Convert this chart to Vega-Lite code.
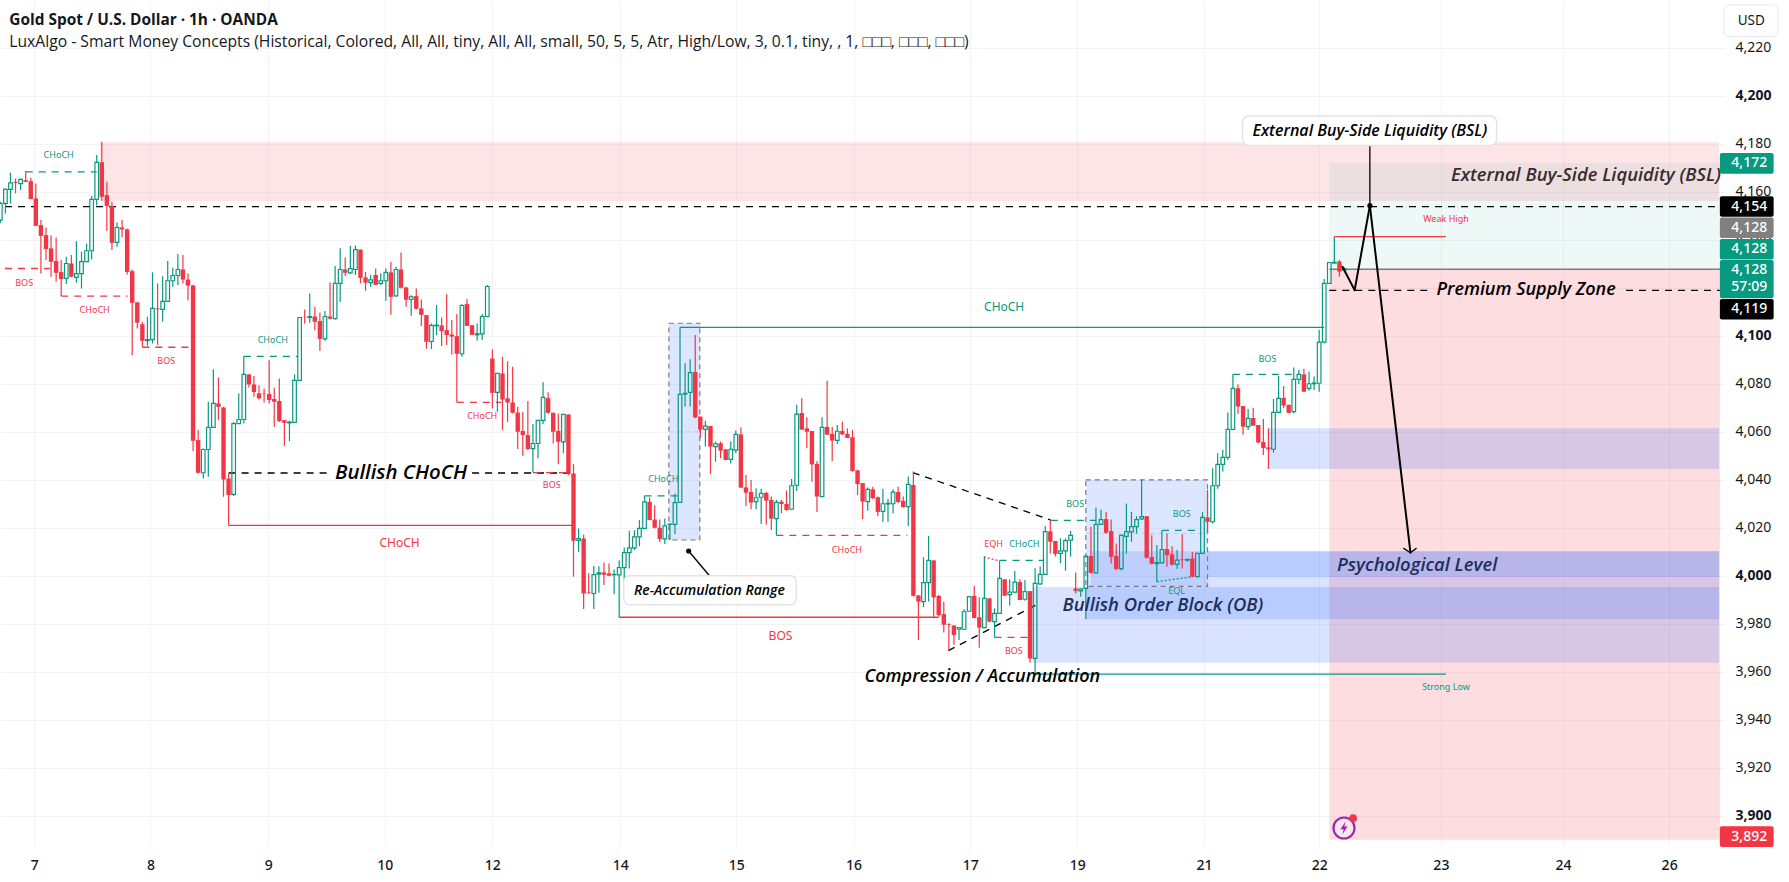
{"$schema":"https://vega.github.io/schema/vega-lite/v6.json","width":1724,"height":846,"autosize":{"type":"none"},"padding":{"left":0,"top":0,"right":65,"bottom":30},"background":"#ffffff","view":{"stroke":null},
"config":{"text":{"font":"Open Sans"},"axis":{"labelFont":"Noto Sans"}},
"datasets":{
"candles":[
{"t":0,"o":4148.2,"h":4155.8,"l":4147,"c":4155.1},{"t":1,"o":4155.1,"h":4161.4,"l":4150.9,"c":4161},{"t":2,"o":4161,"h":4167.9,"l":4155.1,"c":4163.7},{"t":3,"o":4164.1,"h":4165.5,"l":4159.3,"c":4163.7},{"t":4,"o":4163.4,"h":4165.5,"l":4160.7,"c":4165.1},{"t":5,"o":4164.8,"h":4168.6,"l":4164.1,"c":4164.1},{"t":6,"o":4164.4,"h":4165.8,"l":4156.9,"c":4156.9},{"t":7,"o":4157.2,"h":4163.4,"l":4145.7,"c":4145.8},{"t":8,"o":4146.1,"h":4148.2,"l":4125.9,"c":4141.6},{"t":9,"o":4141.9,"h":4145.1,"l":4131.5,"c":4136.1},
{"t":10,"o":4136.4,"h":4141.9,"l":4124.6,"c":4130.8},{"t":11,"o":4131.1,"h":4140.9,"l":4122.5,"c":4126.2},{"t":12,"o":4126.5,"h":4131.5,"l":4116.5,"c":4123.6},{"t":13,"o":4123.9,"h":4132.9,"l":4121.5,"c":4130.1},{"t":14,"o":4130.1,"h":4133.6,"l":4124.3,"c":4124.6},{"t":15,"o":4124.3,"h":4139.4,"l":4122.1,"c":4125.9},{"t":16,"o":4125.9,"h":4135,"l":4119.7,"c":4130.9},{"t":17,"o":4130.9,"h":4138.4,"l":4130.8,"c":4135.4},{"t":18,"o":4135.4,"h":4158.2,"l":4131.8,"c":4156.8},{"t":19,"o":4156.8,"h":4175.3,"l":4154.4,"c":4172.2},
{"t":20,"o":4172.3,"h":4180.8,"l":4156.2,"c":4157.9},{"t":21,"o":4158.6,"h":4164.1,"l":4143.6,"c":4154.1},{"t":22,"o":4154,"h":4155.8,"l":4135.7,"c":4138.7},{"t":23,"o":4138.9,"h":4147.2,"l":4137.1,"c":4145.1},{"t":24,"o":4145.1,"h":4148.2,"l":4141,"c":4144.3},{"t":25,"o":4144.3,"h":4144.7,"l":4125.5,"c":4126.6},{"t":26,"o":4126.9,"h":4127.6,"l":4091.9,"c":4113.7},{"t":27,"o":4113.9,"h":4113.9,"l":4103,"c":4105.4},{"t":28,"o":4104.8,"h":4105.8,"l":4095.2,"c":4097.9},{"t":29,"o":4097.9,"h":4107.9,"l":4095.8,"c":4098.4},
{"t":30,"o":4098.4,"h":4126.4,"l":4096.8,"c":4111.4},{"t":31,"o":4111.4,"h":4121.8,"l":4096.1,"c":4111},{"t":32,"o":4111,"h":4124.8,"l":4105.8,"c":4114.3},{"t":33,"o":4114.3,"h":4131.1,"l":4114.2,"c":4122.9},{"t":34,"o":4122.9,"h":4128.3,"l":4120.4,"c":4125.1},{"t":35,"o":4125.1,"h":4134,"l":4121.1,"c":4127.6},{"t":36,"o":4127.6,"h":4133.6,"l":4121.8,"c":4123.4},{"t":37,"o":4123.4,"h":4125.9,"l":4114.8,"c":4120.9},{"t":38,"o":4120.9,"h":4121.2,"l":4052,"c":4056.2},{"t":39,"o":4056.5,"h":4060.7,"l":4042.6,"c":4042.9},
{"t":40,"o":4042.9,"h":4053,"l":4040.5,"c":4052.6},{"t":41,"o":4052.6,"h":4072.5,"l":4041.2,"c":4061.8},{"t":42,"o":4061.8,"h":4086,"l":4061.8,"c":4071.8},{"t":43,"o":4071.8,"h":4082.6,"l":4064.8,"c":4070.4},{"t":44,"o":4070.1,"h":4070.4,"l":4032.9,"c":4040.1},{"t":45,"o":4040.5,"h":4042.6,"l":4021,"c":4033.6},{"t":46,"o":4033.9,"h":4064.1,"l":4033.2,"c":4063.4},{"t":47,"o":4063.4,"h":4075.9,"l":4063.2,"c":4065.1},{"t":48,"o":4065.1,"h":4091.4,"l":4063.4,"c":4083.9},{"t":49,"o":4083.9,"h":4083.9,"l":4078.4,"c":4079.7},
{"t":50,"o":4079.7,"h":4083.2,"l":4074.6,"c":4076.6},{"t":51,"o":4076,"h":4079.4,"l":4073.4,"c":4073.9},{"t":52,"o":4075.9,"h":4078,"l":4072.2,"c":4075.7},{"t":53,"o":4075.7,"h":4089.8,"l":4071.8,"c":4073.2},{"t":54,"o":4073.6,"h":4078.3,"l":4062.1,"c":4072.5},{"t":55,"o":4072.8,"h":4082.2,"l":4064.1,"c":4064.4},{"t":56,"o":4064.8,"h":4064.8,"l":4054.1,"c":4063.7},{"t":57,"o":4063.7,"h":4064.6,"l":4056.1,"c":4064},{"t":58,"o":4063.9,"h":4083.9,"l":4063.7,"c":4081.4},{"t":59,"o":4081.4,"h":4107.6,"l":4081.2,"c":4107.6},
{"t":60,"o":4107.6,"h":4110.9,"l":4105.1,"c":4107.5},{"t":61,"o":4107.6,"h":4117.6,"l":4105.4,"c":4108},{"t":62,"o":4108,"h":4112.1,"l":4102.3,"c":4105.8},{"t":63,"o":4106.1,"h":4109.7,"l":4093.7,"c":4098.7},{"t":64,"o":4098.7,"h":4110.3,"l":4097.9,"c":4108},{"t":65,"o":4108,"h":4122.2,"l":4106.8,"c":4107.1},{"t":66,"o":4107.1,"h":4129.1,"l":4106.8,"c":4121.8},{"t":67,"o":4121.8,"h":4136.4,"l":4114.1,"c":4127.6},{"t":68,"o":4127.6,"h":4132.6,"l":4124.8,"c":4126.2},{"t":69,"o":4126.2,"h":4137.5,"l":4125.7,"c":4128},
{"t":70,"o":4127.6,"h":4137.6,"l":4125.3,"c":4135.9},{"t":71,"o":4135.9,"h":4135.9,"l":4121.8,"c":4124.1},{"t":72,"o":4124.3,"h":4126.6,"l":4118.7,"c":4122.1},{"t":73,"o":4122.1,"h":4125.3,"l":4120.4,"c":4123.3},{"t":74,"o":4125.3,"h":4128,"l":4121.1,"c":4121.2},{"t":75,"o":4121.8,"h":4125.9,"l":4121.1,"c":4122.9},{"t":76,"o":4122.9,"h":4128,"l":4114.6,"c":4126.4},{"t":77,"o":4126.4,"h":4130.8,"l":4108.7,"c":4116.2},{"t":78,"o":4116.6,"h":4128.7,"l":4116.2,"c":4127.6},{"t":79,"o":4127.6,"h":4134.7,"l":4119.7,"c":4120},
{"t":80,"o":4120.1,"h":4120.4,"l":4112.1,"c":4115},{"t":81,"o":4115.1,"h":4116.9,"l":4108.3,"c":4116.2},{"t":82,"o":4116.5,"h":4119.7,"l":4110.9,"c":4111.2},{"t":83,"o":4111.4,"h":4115.1,"l":4104.1,"c":4108.7},{"t":84,"o":4108.6,"h":4108.6,"l":4094.6,"c":4097.5},{"t":85,"o":4097.6,"h":4105.1,"l":4094.4,"c":4104.3},{"t":86,"o":4104.1,"h":4112.8,"l":4100.3,"c":4104.4},{"t":87,"o":4104.3,"h":4107.6,"l":4095.7,"c":4101.9},{"t":88,"o":4102.3,"h":4117.3,"l":4096.1,"c":4100.3},{"t":89,"o":4100.5,"h":4106.5,"l":4092.2,"c":4099.6},
{"t":90,"o":4099.8,"h":4109,"l":4072.2,"c":4092.5},{"t":91,"o":4092.5,"h":4113.2,"l":4091.2,"c":4112.6},{"t":92,"o":4113.2,"h":4115.3,"l":4104.1,"c":4104.1},{"t":93,"o":4104.4,"h":4104.4,"l":4100.3,"c":4100.4},{"t":94,"o":4100.4,"h":4105.1,"l":4097.9,"c":4100.8},{"t":95,"o":4100.8,"h":4109,"l":4098.2,"c":4108},{"t":96,"o":4108,"h":4121.1,"l":4107.9,"c":4120.5},{"t":97,"o":4090.5,"h":4094.4,"l":4069.7,"c":4076.2},{"t":98,"o":4076.4,"h":4084.3,"l":4068.3,"c":4084.3},{"t":99,"o":4084.3,"h":4091.2,"l":4060.7,"c":4073.4},
{"t":100,"o":4073.9,"h":4089.4,"l":4064.1,"c":4072.2},{"t":101,"o":4072.2,"h":4087.1,"l":4067.6,"c":4067.9},{"t":102,"o":4068,"h":4070.4,"l":4052.8,"c":4060},{"t":103,"o":4060.3,"h":4068.3,"l":4050,"c":4058.6},{"t":104,"o":4058.6,"h":4072.8,"l":4052.4,"c":4052.8},{"t":105,"o":4053,"h":4063.2,"l":4043,"c":4055.1},{"t":106,"o":4055.1,"h":4064.9,"l":4048.9,"c":4064.7},{"t":107,"o":4064.7,"h":4080.6,"l":4063.2,"c":4074.3},{"t":108,"o":4074,"h":4076.4,"l":4067.6,"c":4067.9},{"t":109,"o":4067.9,"h":4067.9,"l":4055.1,"c":4060},
{"t":110,"o":4060.3,"h":4067.6,"l":4046.4,"c":4055.8},{"t":111,"o":4055.8,"h":4067.2,"l":4051,"c":4067.2},{"t":112,"o":4067.2,"h":4067.2,"l":4041.9,"c":4042.6},{"t":113,"o":4042.6,"h":4046.5,"l":3999.6,"c":4014.6},{"t":114,"o":4014.7,"h":4019.7,"l":4010,"c":4015.5},{"t":115,"o":4015.5,"h":4017.2,"l":3986.1,"c":3992.6},{"t":116,"o":3993,"h":4001,"l":3992.6,"c":3992.7},{"t":117,"o":3992.6,"h":4004.1,"l":3986.1,"c":4000.5},{"t":118,"o":4000.7,"h":4004,"l":3992.9,"c":4001.2},{"t":119,"o":4001.4,"h":4005.5,"l":3996.1,"c":4000.4},
{"t":120,"o":4001,"h":4005.1,"l":3999.8,"c":4000},{"t":121,"o":4000.4,"h":4002.6,"l":3992.3,"c":4000.5},{"t":122,"o":4000.4,"h":4006.5,"l":3982.7,"c":4003.4},{"t":123,"o":4003.4,"h":4011.8,"l":3991.5,"c":4009.6},{"t":124,"o":4009.6,"h":4018.7,"l":4003,"c":4011.6},{"t":125,"o":4011.6,"h":4019,"l":4010.7,"c":4016.2},{"t":126,"o":4016.2,"h":4023.2,"l":4012.3,"c":4019.7},{"t":127,"o":4019.7,"h":4033.3,"l":4019.6,"c":4030.8},{"t":128,"o":4030.8,"h":4032.6,"l":4023.2,"c":4023.2},{"t":129,"o":4023.4,"h":4029.4,"l":4019.7,"c":4020},
{"t":130,"o":4020,"h":4023.4,"l":4014.1,"c":4015.3},{"t":131,"o":4015.4,"h":4023.9,"l":4013.2,"c":4020.8},{"t":132,"o":4021.4,"h":4021.8,"l":4014.8,"c":4021.5},{"t":133,"o":4021.4,"h":4034.3,"l":4017.3,"c":4030.5},{"t":134,"o":4030.6,"h":4103.5,"l":4030.6,"c":4075.6},{"t":135,"o":4075.7,"h":4088.5,"l":4070.5,"c":4076},{"t":136,"o":4076.4,"h":4090.2,"l":4070.5,"c":4084.6},{"t":137,"o":4084.9,"h":4100.3,"l":4065.6,"c":4066},{"t":138,"o":4066.3,"h":4066.3,"l":4057.5,"c":4060.9},{"t":139,"o":4061,"h":4064.6,"l":4053.8,"c":4062.3},
{"t":140,"o":4062.4,"h":4062.4,"l":4042.4,"c":4053.8},{"t":141,"o":4053.8,"h":4055.9,"l":4047.5,"c":4055},{"t":142,"o":4055.2,"h":4055.9,"l":4048.9,"c":4052.1},{"t":143,"o":4052.7,"h":4052.7,"l":4048.2,"c":4048.2},{"t":144,"o":4048.5,"h":4055.9,"l":4046.8,"c":4052.7},{"t":145,"o":4052.3,"h":4060.5,"l":4051,"c":4058.9},{"t":146,"o":4058.9,"h":4061.8,"l":4036.7,"c":4036.7},{"t":147,"o":4036.8,"h":4042,"l":4029.1,"c":4034.6},{"t":148,"o":4034.9,"h":4039.9,"l":4027.7,"c":4030.5},{"t":149,"o":4030.9,"h":4036.4,"l":4027.7,"c":4032.5},
{"t":150,"o":4032.7,"h":4036.2,"l":4021.6,"c":4034.3},{"t":151,"o":4034.5,"h":4035,"l":4021.2,"c":4031.3},{"t":152,"o":4031.6,"h":4033,"l":4019.1,"c":4023.8},{"t":153,"o":4023.8,"h":4031.6,"l":4016.8,"c":4030.6},{"t":154,"o":4030.9,"h":4031.6,"l":4026,"c":4029.9},{"t":155,"o":4029.9,"h":4035.5,"l":4027.1,"c":4027.4},{"t":156,"o":4027.7,"h":4040.3,"l":4027.4,"c":4037.5},{"t":157,"o":4037.7,"h":4071.2,"l":4035.3,"c":4067.3},{"t":158,"o":4067.8,"h":4073.9,"l":4060.7,"c":4060.9},{"t":159,"o":4061.4,"h":4066,"l":4053.1,"c":4060},
{"t":160,"o":4060.3,"h":4060.3,"l":4039.2,"c":4046.4},{"t":161,"o":4046.6,"h":4047.8,"l":4026.6,"c":4033},{"t":162,"o":4033,"h":4066,"l":4033,"c":4061.8},{"t":163,"o":4062,"h":4081.2,"l":4058.6,"c":4058.8},{"t":164,"o":4059.1,"h":4062.1,"l":4047.8,"c":4056.3},{"t":165,"o":4056.4,"h":4062.8,"l":4054.9,"c":4060.2},{"t":166,"o":4060.3,"h":4064.2,"l":4058.6,"c":4058.9},{"t":167,"o":4059.1,"h":4061.4,"l":4057.3,"c":4057.4},{"t":168,"o":4057.7,"h":4060.7,"l":4043.4,"c":4043.6},{"t":169,"o":4043.9,"h":4044.1,"l":4033.6,"c":4038.2},
{"t":170,"o":4038.6,"h":4038.6,"l":4023.6,"c":4030.9},{"t":171,"o":4030.9,"h":4036.8,"l":4027.1,"c":4036},{"t":172,"o":4036,"h":4037.1,"l":4032,"c":4032.3},{"t":173,"o":4032.7,"h":4033,"l":4024.9,"c":4026.6},{"t":174,"o":4026.8,"h":4036.2,"l":4022.5,"c":4030},{"t":175,"o":4029.9,"h":4032,"l":4022.5,"c":4030.2},{"t":176,"o":4030,"h":4036,"l":4026,"c":4034.8},{"t":177,"o":4034.9,"h":4037.1,"l":4030.2,"c":4030.7},{"t":178,"o":4031.2,"h":4033,"l":4028.4,"c":4028.6},{"t":179,"o":4028.8,"h":4041.3,"l":4020.7,"c":4038.1},
{"t":180,"o":4037.8,"h":4043.4,"l":3991.3,"c":3991.6},{"t":181,"o":3991.8,"h":3992,"l":3973.2,"c":3989.2},{"t":182,"o":3989.2,"h":4007.7,"l":3986.9,"c":3997.1},{"t":183,"o":3997.1,"h":4016.6,"l":3989.2,"c":4006.4},{"t":184,"o":4006.4,"h":4006.4,"l":3982.3,"c":3991},{"t":185,"o":3991.6,"h":3992,"l":3983,"c":3983.6},{"t":186,"o":3984,"h":3989.2,"l":3976.3,"c":3979.6},{"t":187,"o":3979.8,"h":3980.2,"l":3969.1,"c":3979.5},{"t":188,"o":3979.3,"h":3979.3,"l":3971.2,"c":3975.3},{"t":189,"o":3977.7,"h":3978.4,"l":3973.2,"c":3978.4},
{"t":190,"o":3977.7,"h":3986,"l":3977.4,"c":3985},{"t":191,"o":3985.2,"h":3991.6,"l":3985,"c":3991.3},{"t":192,"o":3991.6,"h":3995.7,"l":3982.3,"c":3982.4},{"t":193,"o":3982.7,"h":3991,"l":3970,"c":3978.4},{"t":194,"o":3978.4,"h":4007.9,"l":3978.1,"c":3990.6},{"t":195,"o":3990.6,"h":3990.6,"l":3980.6,"c":3980.9},{"t":196,"o":3980.9,"h":3986.4,"l":3974.3,"c":3984.3},{"t":197,"o":3984.3,"h":4006.3,"l":3984.1,"c":3998.9},{"t":198,"o":3998.5,"h":3998.5,"l":3991.6,"c":3991.7},{"t":199,"o":3992.1,"h":3998.5,"l":3987.5,"c":3993.2},
{"t":200,"o":3993.2,"h":4002,"l":3992.7,"c":3997.3},{"t":201,"o":3997.4,"h":3998.5,"l":3989.9,"c":3989.9},{"t":202,"o":3990.2,"h":3998.2,"l":3989.6,"c":3993.4},{"t":203,"o":3993.6,"h":3993.6,"l":3963.8,"c":3965.5},{"t":204,"o":3965.6,"h":4003.1,"l":3959,"c":3996.8},{"t":205,"o":3996.6,"h":4003.8,"l":3996.1,"c":4000.6},{"t":206,"o":4000.6,"h":4020.7,"l":4000.3,"c":4018.4},{"t":207,"o":4018.5,"h":4023.2,"l":4009.3,"c":4014.2},{"t":208,"o":4014.5,"h":4014.5,"l":4008,"c":4009.1},{"t":209,"o":4009.3,"h":4015.6,"l":4005.2,"c":4010.4},
{"t":210,"o":4010.4,"h":4015.6,"l":4002.1,"c":4014.6},{"t":211,"o":4014.8,"h":4018.6,"l":4008,"c":4016.8},{"t":212,"o":3994.7,"h":4001.4,"l":3992.6,"c":3993.7},{"t":213,"o":3993.7,"h":3994.7,"l":3991.2,"c":3994.4},{"t":214,"o":3994.7,"h":4008.2,"l":3981.9,"c":4008.2},{"t":215,"o":4008.2,"h":4020.4,"l":4000.9,"c":4001.2},{"t":216,"o":4001.2,"h":4028.4,"l":4000.9,"c":4021.4},{"t":217,"o":4021.4,"h":4027.6,"l":4021.1,"c":4023.4},{"t":218,"o":4023.6,"h":4026.6,"l":4017.6,"c":4017.9},{"t":219,"o":4018.6,"h":4023.4,"l":4005.1,"c":4007.9},
{"t":220,"o":4008.2,"h":4013.4,"l":4002.3,"c":4002.8},{"t":221,"o":4003,"h":4017.2,"l":4002.3,"c":4016.8},{"t":222,"o":4016.4,"h":4030.1,"l":4009.3,"c":4018.4},{"t":223,"o":4018.3,"h":4026.6,"l":4014.1,"c":4020.5},{"t":224,"o":4020.5,"h":4024.8,"l":4017.6,"c":4023.4},{"t":225,"o":4023.7,"h":4040.1,"l":4023.2,"c":4024.6},{"t":226,"o":4024.8,"h":4024.8,"l":4007.2,"c":4007.5},{"t":227,"o":4007.8,"h":4016.9,"l":4004.7,"c":4005},{"t":228,"o":4005,"h":4012.8,"l":3997.5,"c":4005.5},{"t":229,"o":4005.4,"h":4019,"l":4005.1,"c":4010.9},
{"t":230,"o":4011.1,"h":4017.6,"l":4003.7,"c":4008.6},{"t":231,"o":4008.9,"h":4012.3,"l":4004.3,"c":4004.6},{"t":232,"o":4004.7,"h":4010.7,"l":4002.8,"c":4006.5},{"t":233,"o":4006.8,"h":4017.3,"l":4003,"c":4006.5},{"t":234,"o":4006.5,"h":4006.8,"l":4005.8,"c":4006.8},{"t":235,"o":4007.2,"h":4010,"l":3999.3,"c":3999.6},{"t":236,"o":3999.6,"h":4009.3,"l":3999.3,"c":4009.3},{"t":237,"o":4009.3,"h":4026.5,"l":4009,"c":4024.3},{"t":238,"o":4024.3,"h":4035.7,"l":4018,"c":4022.5},{"t":239,"o":4022.5,"h":4044.8,"l":4021.8,"c":4037.5},
{"t":240,"o":4037.5,"h":4051,"l":4036.2,"c":4046.4},{"t":241,"o":4046.4,"h":4052.4,"l":4043.4,"c":4049.3},{"t":242,"o":4049.3,"h":4068,"l":4048.2,"c":4061},{"t":243,"o":4061,"h":4083.9,"l":4060.7,"c":4078.1},{"t":244,"o":4078.1,"h":4079.8,"l":4067.4,"c":4070.5},{"t":245,"o":4070.7,"h":4070.7,"l":4058.7,"c":4062.1},{"t":246,"o":4062.1,"h":4069.5,"l":4060.7,"c":4065.6},{"t":247,"o":4065.7,"h":4070,"l":4062.5,"c":4062.5},{"t":248,"o":4062.8,"h":4062.8,"l":4055.2,"c":4055.5},{"t":249,"o":4055.7,"h":4065.3,"l":4050.3,"c":4053.2},
{"t":250,"o":4053.5,"h":4061.4,"l":4044.5,"c":4052.7},{"t":251,"o":4052.7,"h":4073.6,"l":4051.3,"c":4068.1},{"t":252,"o":4068.1,"h":4083.2,"l":4067.7,"c":4073.9},{"t":253,"o":4074.1,"h":4079.1,"l":4069.8,"c":4070.9},{"t":254,"o":4071.2,"h":4071.2,"l":4067.7,"c":4067.9},{"t":255,"o":4068.4,"h":4086.8,"l":4067.7,"c":4081.8},{"t":256,"o":4081.8,"h":4085.7,"l":4079.9,"c":4083.9},{"t":257,"o":4083.9,"h":4086.2,"l":4076.6,"c":4076.7},{"t":258,"o":4078.1,"h":4085,"l":4077.1,"c":4080},{"t":259,"o":4080,"h":4083,"l":4077.4,"c":4080.3},
{"t":260,"o":4080.2,"h":4102.4,"l":4076.7,"c":4097.3},{"t":261,"o":4097.3,"h":4123.6,"l":4096.8,"c":4121.8},{"t":262,"o":4121.8,"h":4130.5,"l":4121.6,"c":4130.5},{"t":263,"o":4130.3,"h":4141.2,"l":4130,"c":4130.6},{"t":264,"o":4130.9,"h":4131.6,"l":4124.6,"c":4126.7},{"t":265,"o":4127.4,"h":4128.5,"l":4126.8,"c":4127.8}],
"zones":[
{"t":19.7,"t2":338.83,"p":4180.6,"p2":4156.1,"kind":"supply"},{"t":262,"t2":339,"p":4172,"p2":4127.7,"kind":"target"},{"t":262,"t2":339,"p":4127.7,"p2":3890,"kind":"stop"},{"t":250,"t2":338.83,"p":4061.4,"p2":4044.5,"kind":"demand"},{"t":203.5,"t2":338.83,"p":3995.3,"p2":3963.8,"kind":"demand"},{"t":214,"t2":338.83,"p":3995.3,"p2":3981.9,"kind":"demand"},{"t":215,"t2":338.83,"p":4010.2,"p2":3995.3,"kind":"demand"},{"t":238,"t2":338.83,"p":4010.2,"p2":3999.5,"kind":"demand"}],
"boxes":[{"t":214,"t2":238,"p":4039.9,"p2":3995.6},{"t":131.8,"t2":137.9,"p":4105.2,"p2":4014.9}],
"solid":[
{"t":45,"t2":113,"p":4021,"p2":4021,"kind":"bear"},{"t":122,"t2":185,"p":3982.7,"p2":3982.7,"kind":"bear"},{"t":134,"t2":261,"p":4103.5,"p2":4103.5,"kind":"bull"},{"t":204,"t2":285,"p":3959,"p2":3959,"kind":"bull"},{"t":263,"t2":285,"p":4141.25,"p2":4141.25,"kind":"bear"},{"t":262,"t2":339,"p":4127.7,"p2":4127.7,"kind":"gray"},{"t":270,"t2":270,"p":4154.2,"p2":4179.3,"kind":"ink"},{"t":135.7,"t2":139.8,"p":4010.3,"p2":4000,"kind":"ink"},{"t":276.6,"t2":278,"p":4011.5,"p2":4009.6,"kind":"ink"},{"t":279.2,"t2":278,"p":4011.5,"p2":4009.6,"kind":"ink"}],
"path":[{"t":264.6,"t2":267,"p":4128.75,"p2":4119,"kind":"ink"},{"t":267,"t2":270,"p":4119,"p2":4154.2,"kind":"ink"},{"t":270,"t2":278,"p":4154.2,"p2":4009.6,"kind":"ink"}],
"dashed":[
{"t":0.92,"t2":338.83,"p":4153.75,"p2":4153.75,"kind":"ink"},{"t":262,"t2":282,"p":4118.9,"p2":4118.9,"kind":"ink"},{"t":320.5,"t2":339,"p":4118.9,"p2":4118.9,"kind":"ink"},{"t":45,"t2":64.7,"p":4042.8,"p2":4042.8,"kind":"ink"},{"t":93,"t2":113,"p":4042.8,"p2":4042.8,"kind":"ink"},{"t":179.9,"t2":207.1,"p":4043,"p2":4023.2,"kind":"ink"},{"t":186.9,"t2":204.8,"p":3968.8,"p2":3988.5,"kind":"ink"},
{"t":5,"t2":19,"p":4168.3,"p2":4168.3,"kind":"bull"},{"t":48,"t2":58.7,"p":4091.4,"p2":4091.4,"kind":"bull"},{"t":127,"t2":134,"p":4033.3,"p2":4033.3,"kind":"bull"},{"t":197,"t2":205.8,"p":4006.4,"p2":4006.4,"kind":"bull"},{"t":207.1,"t2":216,"p":4023.1,"p2":4023.1,"kind":"bull"},{"t":229,"t2":236.7,"p":4018.9,"p2":4018.9,"kind":"bull"},{"t":243,"t2":255,"p":4083.9,"p2":4083.9,"kind":"bull"},
{"t":0.92,"t2":9.75,"p":4128,"p2":4128,"kind":"bear"},{"t":12,"t2":25.1,"p":4116.5,"p2":4116.5,"kind":"bear"},{"t":28,"t2":37.1,"p":4095.2,"p2":4095.2,"kind":"bear"},{"t":90,"t2":98.8,"p":4072.2,"p2":4072.2,"kind":"bear"},{"t":105,"t2":112.2,"p":4043,"p2":4043,"kind":"bear"},{"t":153,"t2":178.8,"p":4016.8,"p2":4016.8,"kind":"bear"},{"t":196,"t2":202.9,"p":3974.3,"p2":3974.3,"kind":"bear"}],
"dotted":[{"t":193.9,"t2":197,"p":4007.9,"p2":4006.2,"kind":"bear"},{"t":228,"t2":235,"p":3997.5,"p2":3999.6,"kind":"bull"}],
"midlines":[{"t":131.8,"t2":137.9,"p":4060,"p2":4060},{"t":214,"t2":238,"p":4017.6,"p2":4017.6}],
"dots":[{"t":270,"p":4154.2},{"t":135.7,"p":4010.3}],
"smc":[
{"t":11.5,"p":4175.3,"label":"CHoCH","kind":"bull"},{"t":53.7,"p":4098.2,"label":"CHoCH","kind":"bull"},{"t":130.7,"p":4040.3,"label":"CHoCH","kind":"bull"},{"t":201.9,"p":4013.2,"label":"CHoCH","kind":"bull"},{"t":211.9,"p":4029.9,"label":"BOS","kind":"bull"},{"t":232.9,"p":4025.7,"label":"BOS","kind":"bull"},{"t":231.9,"p":3993.6,"label":"EQL","kind":"bull"},{"t":249.8,"p":4090.3,"label":"BOS","kind":"bull"},{"t":285,"p":3953.6,"label":"Strong Low","kind":"bull"},
{"t":4.7,"p":4122,"label":"BOS","kind":"bear"},{"t":18.6,"p":4110.7,"label":"CHoCH","kind":"bear"},{"t":32.7,"p":4089.5,"label":"BOS","kind":"bear"},{"t":95,"p":4066.6,"label":"CHoCH","kind":"bear"},{"t":108.7,"p":4037.8,"label":"BOS","kind":"bear"},{"t":166.9,"p":4010.8,"label":"CHoCH","kind":"bear"},{"t":195.8,"p":4013.2,"label":"EQH","kind":"bear"},{"t":199.8,"p":3968.7,"label":"BOS","kind":"bear"},{"t":285,"p":4148.6,"label":"Weak High","kind":"bear"}],
"smcBig":[{"t":78.7,"p":4013.75,"label":"CHoCH","kind":"bear"},{"t":153.8,"p":3975,"label":"BOS","kind":"bear"},{"t":197.9,"p":4112.1,"label":"CHoCH","kind":"bull"}],
"callouts":[{"t":244.9,"t2":295,"p":4191.5,"p2":4179.3},{"t":122.9,"t2":156.9,"p":4000,"p2":3987.9}],
"notes":[
{"t":79,"p":4042.8,"label":"Bullish CHoCH","kind":"ink","tier":"xl"},{"t":300.8,"p":4118.9,"label":"Premium Supply Zone","kind":"ink","tier":"l"},{"t":193.6,"p":3957.7,"label":"Compression / Accumulation","kind":"ink","tier":"m"},{"t":229.2,"p":3987.8,"label":"Bullish Order Block (OB)","kind":"navy","tier":"s"},{"t":279.3,"p":4004.5,"label":"Psychological Level","kind":"navy","tier":"s"},{"t":312.6,"p":4167,"label":"External Buy-Side Liquidity (BSL)","kind":"dark","tier":"s"},{"t":270,"p":4185.3,"label":"External Buy-Side Liquidity (BSL)","kind":"ink","tier":"d"},{"t":139.8,"p":3993.8,"label":"Re-Accumulation Range","kind":"ink","tier":"c"}],
"tags":[{"t":339,"t2":349.6,"p":4176.1,"p2":4167.5,"kind":"bull"},{"t":339,"t2":349.6,"p":4158.1,"p2":4149.6,"kind":"ink"},{"t":339,"t2":349.6,"p":4149.3,"p2":4140.7,"kind":"gray2"},{"t":339,"t2":349.6,"p":4140.3,"p2":4131.8,"kind":"bull"},{"t":339,"t2":349.6,"p":4131.5,"p2":4115.6,"kind":"bull"},{"t":339,"t2":349.6,"p":4115.3,"p2":4106.8,"kind":"ink"},{"t":339,"t2":349.6,"p":3895.6,"p2":3887,"kind":"bear"}],
"tagText":[{"t":344.8,"p":4172,"label":"4,172"},{"t":344.8,"p":4153.8,"label":"4,154"},{"t":344.8,"p":4145,"label":"4,128"},{"t":344.8,"p":4136.1,"label":"4,128"},{"t":344.8,"p":4127.4,"label":"4,128"},{"t":344.8,"p":4120.2,"label":"57:09"},{"t":344.8,"p":4111.1,"label":"4,119"},{"t":344.8,"p":3891.3,"label":"3,892"}],
"usdBox":[{"t":339.8,"t2":350.5,"p":4237.8,"p2":4224.6}],
"usdText":[{"t":345.2,"p":4231.3,"label":"USD"}],
"title1":[{"t":1.77,"p":4231.5,"label":"Gold Spot / U.S. Dollar · 1h · OANDA"}],
"title2":[{"t":1.77,"p":4222.5,"label":"LuxAlgo - Smart Money Concepts (Historical, Colored, All, All, tiny, All, All, small, 50, 5, 5, Atr, High/Low, 3, 0.1, tiny, , 1, □□□, □□□, □□□)"}],
"iconAt":[{"t":264.9,"p":3894.9}],
"iconDot":[{"t":266.7,"p":3899}]
},
"layer":[
{"data":{"name":"zones"},"mark":{"type":"rect"},"encoding":{
"x":{"field":"t","type":"quantitative","title":null,"scale":{"domain":[0.92,338.83],"nice":false,"zero":false},"axis":{"orient":"bottom","title":null,"values":[6.7,29.6,52.8,75.8,97,122.2,145.1,168.2,191.2,212.3,237.3,260,284,308.1,329],"labelExpr":"{'6.7':'7','29.6':'8','52.8':'9','75.8':'10','97':'12','122.2':'14','145.1':'15','168.2':'16','191.2':'17','212.3':'19','237.3':'21','260':'22','284':'23','308.1':'24','329':'26'}[datum.value]","grid":true,"gridColor":"#f3f3f4","gridWidth":1,"domain":false,"ticks":false,"labelPadding":12,"labelFontSize":14,"labelFontWeight":500,"labelColor":"#131722","labelOverlap":false}},
"x2":{"field":"t2"},
"y":{"field":"p","type":"quantitative","title":null,"scale":{"domain":[3887.4,4239.875],"nice":false,"zero":false},"axis":{"orient":"right","title":null,"values":[4220,4200,4180,4160,4140,4120,4100,4080,4060,4040,4020,4000,3980,3960,3940,3920,3900],"labelExpr":"format(datum.value,',')","grid":true,"gridColor":"#f3f3f4","gridWidth":1,"domain":false,"ticks":false,"labelPadding":11,"labelFontSize":14,"labelColor":"#131722","labelOverlap":false,"labelFontWeight":{"condition":{"test":"datum.value===4200||datum.value===4000||datum.value===3900||datum.value===4100","value":700},"value":400}}},
"y2":{"field":"p2"},
"color":{"field":"kind","type":"nominal","legend":null,"scale":{"domain":["bull","bear","ink","gray","gray2","navy","dark","supply","target","stop","demand"],"range":["#089981","#f23645","#000000","#787b86","#808080","#1c2f5c","#3b2a2e","#f23645","#089981","#f23645","#2962ff"]}},
"opacity":{"field":"kind","type":"nominal","legend":null,"scale":{"type":"ordinal","domain":["supply","target","stop","demand"],"range":[0.13,0.07,0.17,0.175]}}}},
{"data":{"name":"boxes"},"mark":{"type":"rect","fill":"#2962ff","fillOpacity":0.16,"stroke":"#787b86","strokeWidth":1.2,"strokeDash":[5,4]},"encoding":{"x":{"field":"t","type":"quantitative","title":null},"x2":{"field":"t2"},"y":{"field":"p","type":"quantitative","title":null},"y2":{"field":"p2"}}},
{"data":{"name":"midlines"},"mark":{"type":"rule","stroke":"#d6c6e0","strokeWidth":1,"strokeDash":[5,3]},"encoding":{"x":{"field":"t","type":"quantitative","title":null},"x2":{"field":"t2"},"y":{"field":"p","type":"quantitative","title":null},"y2":{"field":"p2"}}},
{"data":{"name":"solid"},"mark":{"type":"rule","strokeWidth":1.3},"encoding":{"x":{"field":"t","type":"quantitative","title":null},"x2":{"field":"t2"},"y":{"field":"p","type":"quantitative","title":null},"y2":{"field":"p2"},"color":{"field":"kind","type":"nominal","legend":null}}},
{"data":{"name":"dashed"},"mark":{"type":"rule","strokeWidth":1.3,"strokeDash":[7,6]},"encoding":{"x":{"field":"t","type":"quantitative","title":null},"x2":{"field":"t2"},"y":{"field":"p","type":"quantitative","title":null},"y2":{"field":"p2"},"color":{"field":"kind","type":"nominal","legend":null}}},
{"data":{"name":"dotted"},"mark":{"type":"rule","strokeWidth":1.3,"strokeDash":[2,2]},"encoding":{"x":{"field":"t","type":"quantitative","title":null},"x2":{"field":"t2"},"y":{"field":"p","type":"quantitative","title":null},"y2":{"field":"p2"},"color":{"field":"kind","type":"nominal","legend":null}}},
{"data":{"name":"candles"},"transform":[{"filter":"datum.c<datum.o"}],"mark":{"type":"rule","stroke":"#f23645","strokeWidth":1.2},"encoding":{"x":{"field":"t","type":"quantitative","title":null},"y":{"field":"h","type":"quantitative","title":null},"y2":{"field":"l"}}},
{"data":{"name":"candles"},"transform":[{"filter":"datum.c>=datum.o"}],"mark":{"type":"rule","stroke":"#089981","strokeWidth":1.2},"encoding":{"x":{"field":"t","type":"quantitative","title":null},"y":{"field":"h","type":"quantitative","title":null},"y2":{"field":"c"}}},
{"data":{"name":"candles"},"transform":[{"filter":"datum.c>=datum.o"}],"mark":{"type":"rule","stroke":"#089981","strokeWidth":1.2},"encoding":{"x":{"field":"t","type":"quantitative","title":null},"y":{"field":"o","type":"quantitative","title":null},"y2":{"field":"l"}}},
{"data":{"name":"candles"},"transform":[{"filter":"datum.c<datum.o"}],"mark":{"type":"bar","size":4.4,"orient":"vertical","fill":"#f23645"},"encoding":{"x":{"field":"t","type":"quantitative","title":null},"y":{"field":"o","type":"quantitative","title":null},"y2":{"field":"c"}}},
{"data":{"name":"candles"},"transform":[{"filter":"datum.c>=datum.o"}],"mark":{"type":"bar","size":3.6,"orient":"vertical","fill":"transparent","stroke":"#089981","strokeWidth":1.2},"encoding":{"x":{"field":"t","type":"quantitative","title":null},"y":{"field":"o","type":"quantitative","title":null},"y2":{"field":"c"}}},
{"data":{"name":"path"},"mark":{"type":"rule","strokeWidth":2,"strokeCap":"round"},"encoding":{"x":{"field":"t","type":"quantitative","title":null},"x2":{"field":"t2"},"y":{"field":"p","type":"quantitative","title":null},"y2":{"field":"p2"},"color":{"field":"kind","type":"nominal","legend":null}}},
{"data":{"name":"dots"},"mark":{"type":"point","filled":true,"shape":"circle","size":26,"color":"#000000","opacity":1},"encoding":{"x":{"field":"t","type":"quantitative","title":null},"y":{"field":"p","type":"quantitative","title":null}}},
{"data":{"name":"iconAt"},"mark":{"type":"point","shape":"circle","size":440,"fill":"#fbe6ee","fillOpacity":1,"stroke":"#9c27b0","strokeWidth":2.2,"opacity":1},"encoding":{"x":{"field":"t","type":"quantitative","title":null},"y":{"field":"p","type":"quantitative","title":null}}},
{"data":{"name":"iconAt"},"mark":{"type":"point","shape":"M0.25,-1 L-0.55,0.18 L-0.05,0.18 L-0.25,1 L0.55,-0.22 L0.05,-0.22 Z","size":170,"filled":true,"color":"#9c27b0","opacity":1},"encoding":{"x":{"field":"t","type":"quantitative","title":null},"y":{"field":"p","type":"quantitative","title":null}}},
{"data":{"name":"iconDot"},"mark":{"type":"point","shape":"circle","size":60,"filled":true,"color":"#f23645","opacity":1},"encoding":{"x":{"field":"t","type":"quantitative","title":null},"y":{"field":"p","type":"quantitative","title":null}}},
{"data":{"name":"smc"},"mark":{"type":"text","fontSize":9,"align":"center","baseline":"middle","font":"Noto Sans"},"encoding":{"x":{"field":"t","type":"quantitative","title":null},"y":{"field":"p","type":"quantitative","title":null},"text":{"field":"label"},"color":{"field":"kind","type":"nominal","legend":null}}},
{"data":{"name":"smcBig"},"mark":{"type":"text","fontSize":12,"align":"center","baseline":"middle","font":"Noto Sans"},"encoding":{"x":{"field":"t","type":"quantitative","title":null},"y":{"field":"p","type":"quantitative","title":null},"text":{"field":"label"},"color":{"field":"kind","type":"nominal","legend":null}}},
{"data":{"name":"callouts"},"mark":{"type":"rect","fill":"#ffffff","stroke":"#e4e4e6","strokeWidth":1.5,"cornerRadius":6},"encoding":{"x":{"field":"t","type":"quantitative","title":null},"x2":{"field":"t2"},"y":{"field":"p","type":"quantitative","title":null},"y2":{"field":"p2"}}},
{"data":{"name":"notes"},"mark":{"type":"text","font":"Open Sans","fontStyle":"italic","fontWeight":600,"align":"center","baseline":"middle"},"encoding":{"x":{"field":"t","type":"quantitative","title":null},"y":{"field":"p","type":"quantitative","title":null},"text":{"field":"label"},"color":{"field":"kind","type":"nominal","legend":null},"size":{"field":"tier","type":"nominal","legend":null,"scale":{"type":"ordinal","domain":["xl","l","m","s","c","d"],"range":[20.4,18,18,18.4,14,16]}}}},
{"data":{"name":"tags"},"mark":{"type":"rect","cornerRadius":2},"encoding":{"x":{"field":"t","type":"quantitative","title":null},"x2":{"field":"t2"},"y":{"field":"p","type":"quantitative","title":null},"y2":{"field":"p2"},"color":{"field":"kind","type":"nominal","legend":null}}},
{"data":{"name":"tagText"},"mark":{"type":"text","font":"Noto Sans","fontSize":14,"fontWeight":500,"fill":"#ffffff","align":"center","baseline":"middle"},"encoding":{"x":{"field":"t","type":"quantitative","title":null},"y":{"field":"p","type":"quantitative","title":null},"text":{"field":"label"}}},
{"data":{"name":"usdBox"},"mark":{"type":"rect","fill":"#ffffff","stroke":"#ececee","strokeWidth":1.2,"cornerRadius":5},"encoding":{"x":{"field":"t","type":"quantitative","title":null},"x2":{"field":"t2"},"y":{"field":"p","type":"quantitative","title":null},"y2":{"field":"p2"}}},
{"data":{"name":"usdText"},"mark":{"type":"text","font":"Noto Sans","fontSize":13.5,"fill":"#131722","align":"center","baseline":"middle"},"encoding":{"x":{"field":"t","type":"quantitative","title":null},"y":{"field":"p","type":"quantitative","title":null},"text":{"field":"label"}}},
{"data":{"name":"title1"},"mark":{"type":"text","font":"Open Sans","fontSize":15.4,"fontWeight":700,"fill":"#131722","align":"left","baseline":"middle"},"encoding":{"x":{"field":"t","type":"quantitative","title":null},"y":{"field":"p","type":"quantitative","title":null},"text":{"field":"label"}}},
{"data":{"name":"title2"},"mark":{"type":"text","font":"Open Sans","fontSize":15.7,"fill":"#131722","align":"left","baseline":"middle"},"encoding":{"x":{"field":"t","type":"quantitative","title":null},"y":{"field":"p","type":"quantitative","title":null},"text":{"field":"label"}}}
]}
